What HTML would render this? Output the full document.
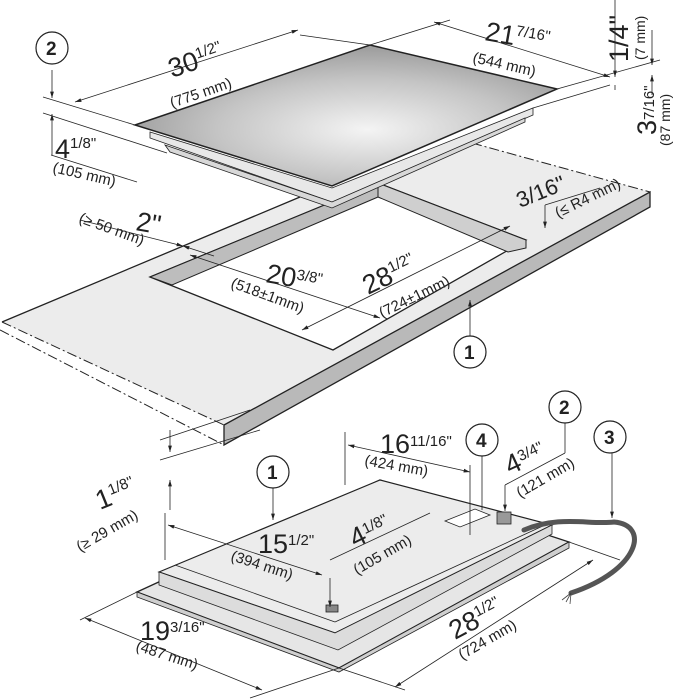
<!DOCTYPE html>
<html><head><meta charset="utf-8"><style>
html,body{margin:0;padding:0;background:#fff}
svg{display:block}
text{font-family:"Liberation Sans",Arial,sans-serif;fill:#222}
.b{font-size:27px}
.s{font-size:14px}
.m{font-size:15px}
</style></head><body>
<svg width="673" height="700" viewBox="0 0 673 700" xmlns="http://www.w3.org/2000/svg">
<defs>
<radialGradient id="g" cx="0.55" cy="0.6" r="0.65">
<stop offset="0" stop-color="#f4f4f4"/><stop offset="0.55" stop-color="#c4c4c4"/><stop offset="1" stop-color="#929292"/>
</radialGradient>
<marker id="a" viewBox="0 0 10 10" refX="10" refY="5" markerWidth="8" markerHeight="8" orient="auto-start-reverse"><path d="M0,2 L10,5 L0,8z" fill="#222"/></marker>
</defs>
<g stroke="#222" fill="none" stroke-width="0.8">
<polygon points="2,322 300,197 472,143 650,192 224,425" fill="#ececec" stroke="none"/>
<polygon points="224,425 650,192 650,207 224,445" fill="#b9b9b9" stroke="#222" stroke-width="1.3"/>
<line x1="2" y1="322" x2="300" y2="197" stroke-width="1.3"/>
<path d="M2,322 L224,425 M0,330 L224,445 M472,143 L650,192" stroke-dasharray="10,3,2,3" stroke-width="1"/>
<polygon points="150,277 378,183 526,240 333,350" fill="#fff" stroke="#222" stroke-width="1.3"/>
<polygon points="150,277 378,183 378,197 172,285" fill="#bdbdbd" stroke="#222" stroke-width="1"/>
<polygon points="378,183 526,240 526,248 508,252 378,197" fill="#cfcfcf" stroke="#222" stroke-width="1"/>
<polygon points="150,132 332,188 533,108 533,115 332,202 150,138" fill="#e8e8e8" stroke="#222"/>
<polygon points="165,145 332,202 525,118 525,122 332,208 170,152" fill="#d8d8d8" stroke="#222"/>
<polygon points="135,125 370,45 557,89 332,186" fill="url(#g)" stroke="#222" stroke-width="1.5"/>
<line x1="43" y1="97" x2="135" y2="125"/>
<line x1="43" y1="113" x2="167" y2="153"/>
<line x1="51" y1="155" x2="137" y2="182"/>
<line x1="300" y1="35" x2="370" y2="45"/>
<line x1="370" y1="45" x2="450" y2="20"/>
<line x1="557" y1="89" x2="660" y2="60"/>
<line x1="533" y1="108" x2="610" y2="85"/>
<line x1="75" y1="102" x2="298" y2="30" marker-start="url(#a)" marker-end="url(#a)"/>
<line x1="434" y1="22" x2="610" y2="77" marker-start="url(#a)" marker-end="url(#a)"/>
<line x1="52" y1="70" x2="52" y2="98" marker-end="url(#a)"/>
<line x1="52" y1="135" x2="52" y2="114" marker-end="url(#a)"/>
<line x1="52" y1="135" x2="52" y2="155"/>
<line x1="615" y1="0" x2="615" y2="77" marker-end="url(#a)"/>
<line x1="615" y1="90" x2="615" y2="85"/>
<line x1="652" y1="30" x2="652" y2="65" marker-end="url(#a)"/>
<line x1="652" y1="95" x2="652" y2="75" marker-end="url(#a)"/>
<line x1="80" y1="220" x2="183" y2="246" marker-end="url(#a)"/>
<line x1="183" y1="246" x2="214" y2="256" marker-start="url(#a)"/>
<line x1="190" y1="255" x2="380" y2="318" marker-start="url(#a)" marker-end="url(#a)"/>
<line x1="302" y1="330" x2="510" y2="226" marker-start="url(#a)" marker-end="url(#a)"/>
<line x1="545" y1="205" x2="545" y2="228" marker-end="url(#a)"/>
<line x1="545" y1="205" x2="600" y2="188"/>
<line x1="470" y1="300" x2="470" y2="345" marker-start="url(#a)"/>
<circle cx="470" cy="352" r="16" fill="#fff" stroke-width="1.2"/>
<circle cx="52" cy="48" r="16" fill="#fff" stroke-width="1.2"/>
<line x1="160" y1="440" x2="250" y2="410"/>
<line x1="160" y1="460" x2="260" y2="430"/>
<line x1="170" y1="430" x2="170" y2="452" marker-end="url(#a)"/>
<line x1="170" y1="510" x2="170" y2="480" marker-end="url(#a)"/>
<polygon points="137,592 380,480 569,542 339,668" fill="#e6e6e6" stroke="#222" stroke-width="1.3"/>
<polygon points="137,592 339,668 569,542 569,548 339,672 137,597" fill="#cfcfcf" stroke="#222"/>
<polygon points="159,572 380,480 552,525 335,633" fill="#ececec" stroke="#222" stroke-width="1.2"/>
<polygon points="159,572 335,633 552,525 552,534 338,650 159,585" fill="#dcdcdc" stroke="#222"/>
<line x1="175" y1="565" x2="335" y2="622"/>
<line x1="335" y1="622" x2="545" y2="525"/>
<polygon points="445,521 475,509 490,515 460,527" fill="#fff"/>
<rect x="326" y="605" width="12" height="7" fill="#888"/>
<path d="M524,530 C560,515 590,525 614,522 C650,525 640,570 571,593" stroke="#555" stroke-width="5" stroke-linecap="round"/>
<path d="M571,593 L562,600 M571,593 L566,602 M571,593 L570,604" stroke="#444"/>
<rect x="497" y="512" width="14" height="12" fill="#999"/>
<line x1="345" y1="432" x2="345" y2="485"/>
<line x1="165" y1="513" x2="165" y2="560"/>
<line x1="348" y1="445" x2="470" y2="472" marker-start="url(#a)" marker-end="url(#a)"/>
<line x1="470" y1="465" x2="470" y2="535"/>
<line x1="168" y1="525" x2="322" y2="575" marker-start="url(#a)" marker-end="url(#a)"/>
<line x1="330" y1="578" x2="330" y2="607" marker-end="url(#a)"/>
<line x1="330" y1="560" x2="430" y2="513"/>
<line x1="505" y1="485" x2="505" y2="511" marker-end="url(#a)"/>
<line x1="505" y1="485" x2="565" y2="453"/>
<line x1="565" y1="453" x2="565" y2="415"/>
<line x1="482" y1="455" x2="482" y2="510"/>
<line x1="612" y1="440" x2="612" y2="518" marker-end="url(#a)"/>
<line x1="273" y1="476" x2="273" y2="520" marker-end="url(#a)"/>
<line x1="137" y1="592" x2="80" y2="620"/>
<line x1="339" y1="668" x2="250" y2="698"/>
<line x1="85" y1="618" x2="262" y2="690" marker-start="url(#a)" marker-end="url(#a)"/>
<line x1="339" y1="668" x2="405" y2="690"/>
<line x1="569" y1="542" x2="620" y2="560"/>
<line x1="395" y1="687" x2="593" y2="560" marker-start="url(#a)" marker-end="url(#a)"/>
<circle cx="273" cy="472" r="16" fill="#fff" stroke-width="1.2"/>
<circle cx="482" cy="440" r="16" fill="#fff" stroke-width="1.2"/>
<circle cx="565" cy="407" r="16" fill="#fff" stroke-width="1.2"/>
<circle cx="610" cy="437" r="16" fill="#fff" stroke-width="1.2"/>
</g>
<g font-weight="bold" style="font-size:19px">
<text x="46" y="55">2</text><text x="464" y="359">1</text>
<text x="267" y="479">1</text><text x="476" y="447">4</text>
<text x="559" y="414">2</text><text x="604" y="444">3</text>
</g>
<text class="b" transform="translate(172,78) rotate(-19)">30<tspan class="m" dy="-10">1/2"</tspan></text>
<text class="m" transform="translate(172,108) rotate(-19)">(775 mm)</text>
<text class="b" transform="translate(484,40) rotate(10)">21<tspan class="m" dy="-10">7/16"</tspan></text>
<text class="m" transform="translate(472,62) rotate(13)">(544 mm)</text>
<text class="b" transform="translate(628,62) rotate(-90)">1/4"</text>
<text class="s" transform="translate(645,60) rotate(-90)">(7 mm)</text>
<text class="b" transform="translate(656,135) rotate(-90)">3<tspan class="m" dy="-2">7/16"</tspan></text>
<text class="s" transform="translate(670,146) rotate(-90)">(87 mm)</text>
<text class="b" x="55" y="158">4<tspan class="m" dy="-10">1/8"</tspan></text>
<text class="m" transform="translate(52,172) rotate(13)">(105 mm)</text>
<text class="b" transform="translate(135,230) rotate(10)">2"</text>
<text class="m" transform="translate(78,222) rotate(20)">(≥ 50 mm)</text>
<text class="b" transform="translate(265,282) rotate(10)">20<tspan class="m" dy="-8">3/8"</tspan></text>
<text class="m" transform="translate(230,287) rotate(20)">(518±1mm)</text>
<text class="b" transform="translate(368,295) rotate(-26)">28<tspan class="m" dy="-10">1/2"</tspan></text>
<text class="m" transform="translate(382,318) rotate(-26)">(724±1mm)</text>
<text transform="translate(520,208) rotate(-22)" style="font-size:22px">3/16"</text>
<text class="m" transform="translate(558,218) rotate(-26)">(≤ R4 mm)</text>
<text class="b" transform="translate(100,510) rotate(-22)">1<tspan class="m" dy="-10">1/8"</tspan></text>
<text class="m" transform="translate(80,552) rotate(-30)">(≥ 29 mm)</text>
<text class="b" x="380" y="453">16<tspan class="m" dy="-7">11/16"</tspan></text>
<text class="m" transform="translate(364,465) rotate(10)">(424 mm)</text>
<text class="b" transform="translate(510,475) rotate(-25)">4<tspan class="m" dy="-8">3/4"</tspan></text>
<text class="m" transform="translate(520,498) rotate(-30)">(121 mm)</text>
<text class="b" x="258" y="553">15<tspan class="m" dy="-8">1/2"</tspan></text>
<text class="m" transform="translate(230,560) rotate(18)">(394 mm)</text>
<text class="b" transform="translate(355,548) rotate(-26)">4<tspan class="m" dy="-8">1/8"</tspan></text>
<text class="m" transform="translate(357,575) rotate(-30)">(105 mm)</text>
<text class="b" x="140" y="640">19<tspan class="m" dy="-8">3/16"</tspan></text>
<text class="m" transform="translate(135,650) rotate(18)">(487 mm)</text>
<text class="b" transform="translate(455,640) rotate(-28)">28<tspan class="m" dy="-10">1/2"</tspan></text>
<text class="m" transform="translate(462,660) rotate(-30)">(724 mm)</text>
</svg>
</body></html>
